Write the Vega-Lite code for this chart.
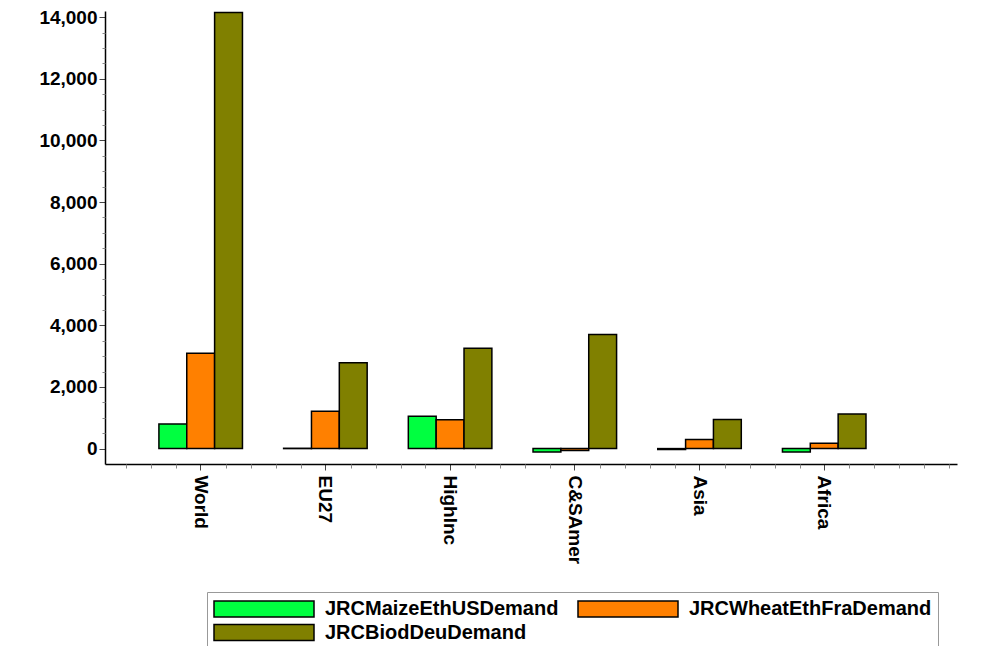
{
  "$schema": "https://vega.github.io/schema/vega-lite/v6.json",
  "width": 852,
  "height": 453,
  "autosize": {"type": "none"},
  "padding": {"left": 105, "top": 11, "right": 28, "bottom": 182},
  "background": "white",
  "config": {"view": {"stroke": null}, "font": "Liberation Sans"},
  "data": {
    "values": [
      {"region": "World", "series": "JRCMaizeEthUSDemand", "value": 800},
      {"region": "World", "series": "JRCWheatEthFraDemand", "value": 3094},
      {"region": "World", "series": "JRCBiodDeuDemand", "value": 14150},
      {"region": "EU27", "series": "JRCMaizeEthUSDemand", "value": 10},
      {"region": "EU27", "series": "JRCWheatEthFraDemand", "value": 1211},
      {"region": "EU27", "series": "JRCBiodDeuDemand", "value": 2782},
      {"region": "HighInc", "series": "JRCMaizeEthUSDemand", "value": 1049},
      {"region": "HighInc", "series": "JRCWheatEthFraDemand", "value": 932},
      {"region": "HighInc", "series": "JRCBiodDeuDemand", "value": 3256},
      {"region": "C&SAmer", "series": "JRCMaizeEthUSDemand", "value": -110},
      {"region": "C&SAmer", "series": "JRCWheatEthFraDemand", "value": -65},
      {"region": "C&SAmer", "series": "JRCBiodDeuDemand", "value": 3701},
      {"region": "Asia", "series": "JRCMaizeEthUSDemand", "value": -30},
      {"region": "Asia", "series": "JRCWheatEthFraDemand", "value": 292},
      {"region": "Asia", "series": "JRCBiodDeuDemand", "value": 941},
      {"region": "Africa", "series": "JRCMaizeEthUSDemand", "value": -110},
      {"region": "Africa", "series": "JRCWheatEthFraDemand", "value": 172},
      {"region": "Africa", "series": "JRCBiodDeuDemand", "value": 1126}
    ]
  },
  "layer": [
    {
      "mark": {"type": "bar", "stroke": "black", "strokeWidth": 1.5},
      "encoding": {
        "x": {
          "field": "region", "type": "nominal",
          "sort": ["World", "EU27", "HighInc", "C&SAmer", "Asia", "Africa"],
          "scale": {"paddingInner": 0.33, "paddingOuter": 0.581, "align": 0.372},
          "axis": {"title": null, "labelAngle": 90, "labelFont": "Liberation Sans", "labelFontWeight": "bold", "labelFontSize": 19, "labelColor": "black", "labelPadding": 5, "tickSize": 6, "tickColor": "#444", "domainColor": "black", "domainWidth": 1.5, "grid": false}
        },
        "xOffset": {
          "field": "series", "type": "nominal",
          "sort": ["JRCMaizeEthUSDemand", "JRCWheatEthFraDemand", "JRCBiodDeuDemand"],
          "scale": {"paddingInner": 0}
        },
        "y": {
          "field": "value", "type": "quantitative",
          "scale": {"domain": [-500, 14200], "nice": false, "zero": false},
          "axis": {"title": null, "values": [0, 2000, 4000, 6000, 8000, 10000, 12000, 14000], "format": ",.0f", "labelFont": "Liberation Sans", "labelFontWeight": "bold", "labelFontSize": 19, "labelColor": "black", "labelPadding": 2, "tickSize": 6, "tickColor": "#444", "domainColor": "black", "domainWidth": 1.5, "grid": false}
        },
        "color": {
          "field": "series", "type": "nominal",
          "scale": {"domain": ["JRCMaizeEthUSDemand", "JRCWheatEthFraDemand", "JRCBiodDeuDemand"], "range": ["#00FF40", "#FF8000", "#808000"]},
          "legend": {
            "orient": "none", "legendX": 102, "legendY": 581,
            "direction": "horizontal", "columns": 2, "title": null,
            "symbolType": "M-1,-0.8H9V0.8H-1Z", "symbolSize": 400,
            "symbolStrokeColor": "black", "symbolStrokeWidth": 1.5, "symbolOpacity": 1,
            "labelFont": "Liberation Sans", "labelFontSize": 20, "labelFontWeight": "bold", "labelColor": "black",
            "labelOffset": 90, "labelLimit": 0, "columnPadding": 16, "rowPadding": 1.5,
            "padding": 6, "strokeColor": "#999", "fillColor": "white"
          }
        }
      }
    },
    {
      "mark": {"type": "point", "opacity": 0},
      "encoding": {
        "x": {
          "datum": 0, "type": "quantitative",
          "scale": {"domain": [-0.77, 6.063], "nice": false, "zero": false},
          "axis": {"orient": "bottom", "title": null, "values": [-0.6, -0.4, -0.2, 0.2, 0.4, 0.6, 0.8, 1.2, 1.4, 1.6, 1.8, 2.2, 2.4, 2.6, 2.8, 3.2, 3.4, 3.6, 3.8, 4.2, 4.4, 4.6, 4.8, 5.2, 5.4, 5.6, 5.8, 6.0], "labels": false, "domain": false, "grid": false, "tickSize": 4, "tickColor": "#888"}
        },
        "y": {
          "datum": 0, "type": "quantitative",
          "scale": {"domain": [-500, 14200], "nice": false, "zero": false},
          "axis": {"orient": "left", "title": null, "values": [500, 1000, 1500, 2500, 3000, 3500, 4500, 5000, 5500, 6500, 7000, 7500, 8500, 9000, 9500, 10500, 11000, 11500, 12500, 13000, 13500], "labels": false, "domain": false, "grid": false, "tickSize": 3, "tickColor": "#888"}
        }
      }
    }
  ],
  "resolve": {"scale": {"x": "independent", "y": "independent"}, "axis": {"x": "independent", "y": "independent"}}
}
